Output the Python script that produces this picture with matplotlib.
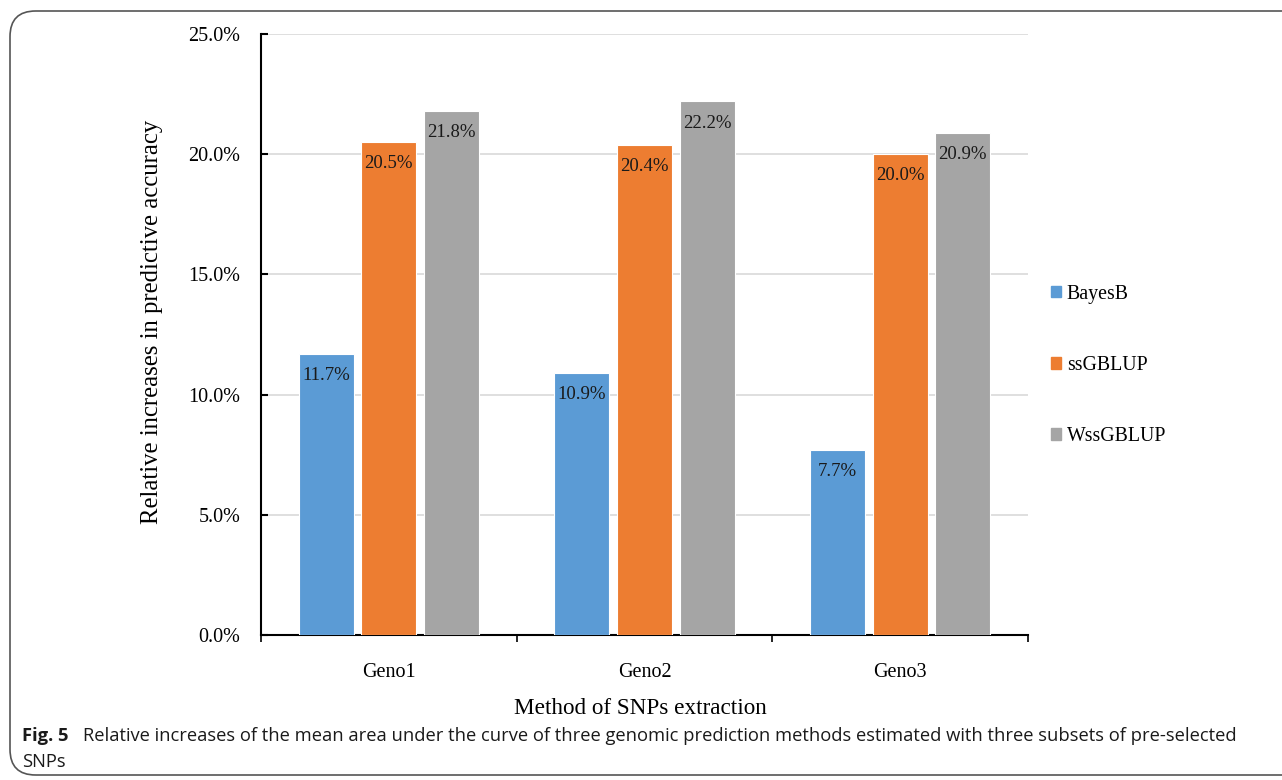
import matplotlib
matplotlib.use("Agg")
import matplotlib.pyplot as plt
import numpy as np
from matplotlib.patches import FancyBboxPatch

categories = ["Geno1", "Geno2", "Geno3"]
series_names = ["BayesB", "ssGBLUP", "WssGBLUP"]
bayesb = [11.7, 10.9, 7.7]
ssgblup = [20.5, 20.4, 20.0]
wssgblup = [21.8, 22.2, 20.9]
colors = ["#5B9BD5", "#ED7D31", "#A5A5A5"]
yticks = [0, 5, 10, 15, 20, 25]

serif = ["Liberation Serif", "DejaVu Serif"]
fig = plt.figure(figsize=(12.82, 7.80), dpi=100)
ax = fig.add_axes([261/1282, 1-635/780, (1028-261)/1282, (635-34)/780])

x = np.arange(len(categories))
w = 0.215
step = 0.245
for i, (vals, name, c) in enumerate(zip([bayesb, ssgblup, wssgblup], series_names, colors)):
    pos = x + (i-1)*step
    ax.bar(pos, vals, width=w, color=c, edgecolor="white", linewidth=0.8, label=name, zorder=3)
    for p, v in zip(pos, vals):
        ax.text(p, v - 0.55, f"{v:.1f}%", ha="center", va="top", fontsize=13.5,
                family=serif, color="#1a1a1a", zorder=4)

ax.set_xlim(-0.5, 2.5)
ax.set_ylim(0, 25)
ax.set_yticks(yticks)
ax.set_yticklabels([f"{t:.1f}%" for t in yticks], family=serif, fontsize=14.5)
ax.set_xticks(x)
ax.set_xticklabels(categories, family=serif, fontsize=14.5)
ax.set_xticks([-0.5, 0.5, 1.5, 2.5], minor=True)
ax.tick_params(axis="x", which="major", length=0, pad=20)
ax.tick_params(axis="x", which="minor", length=5, width=1.2, direction="out")
ax.tick_params(axis="y", length=5, width=1.5, direction="in", pad=15)
ax.yaxis.grid(True, color="#d9d9d9", linewidth=1.2, zorder=0)
ax.set_axisbelow(True)
for s in ["top", "right"]:
    ax.spines[s].set_visible(False)
ax.spines["left"].set_linewidth(1.5)
ax.spines["bottom"].set_linewidth(1.5)

fig.text(152/1282, 1-322/780, "Relative increases in predictive accuracy", rotation=90,
         ha="center", va="center", family=serif, fontsize=17.8)
fig.text(640/1282, 1-708/780, "Method of SNPs extraction", ha="center", va="center",
         family=serif, fontsize=16.7)

handles = [plt.Rectangle((0, 0), 1, 1, color=c) for c in colors]
leg = fig.legend(handles, series_names, loc="upper left", bbox_to_anchor=(1033/1282, 1-267/780),
                 frameon=False, prop={"family": serif, "size": 14.3}, handlelength=0.5,
                 handleheight=0.5, handletextpad=0.3, labelspacing=2.62)

box = FancyBboxPatch((10/1282, 5/780), 1.2, 1-11/780-5/780, boxstyle="round,pad=0,rounding_size=0.02",
                     transform=fig.transFigure, fill=False, edgecolor="#555555", linewidth=1.2,
                     mutation_aspect=1282/780)
fig.add_artist(box)

cap = ["Open Sans", "DejaVu Sans"]
fig.text(22/1282, 1-736/780, "Fig. 5", ha="left", va="center", family=cap, fontsize=13.2,
         fontweight="bold", color="#1a1a1a")
fig.text(83/1282, 1-736/780,
         "Relative increases of the mean area under the curve of three genomic prediction methods estimated with three subsets of pre-selected",
         ha="left", va="center", family=cap, fontsize=13.2, color="#1a1a1a")
fig.text(22/1282, 1-762/780, "SNPs", ha="left", va="center", family=cap, fontsize=13.2, color="#1a1a1a")

fig.savefig("out.png", dpi=100)
